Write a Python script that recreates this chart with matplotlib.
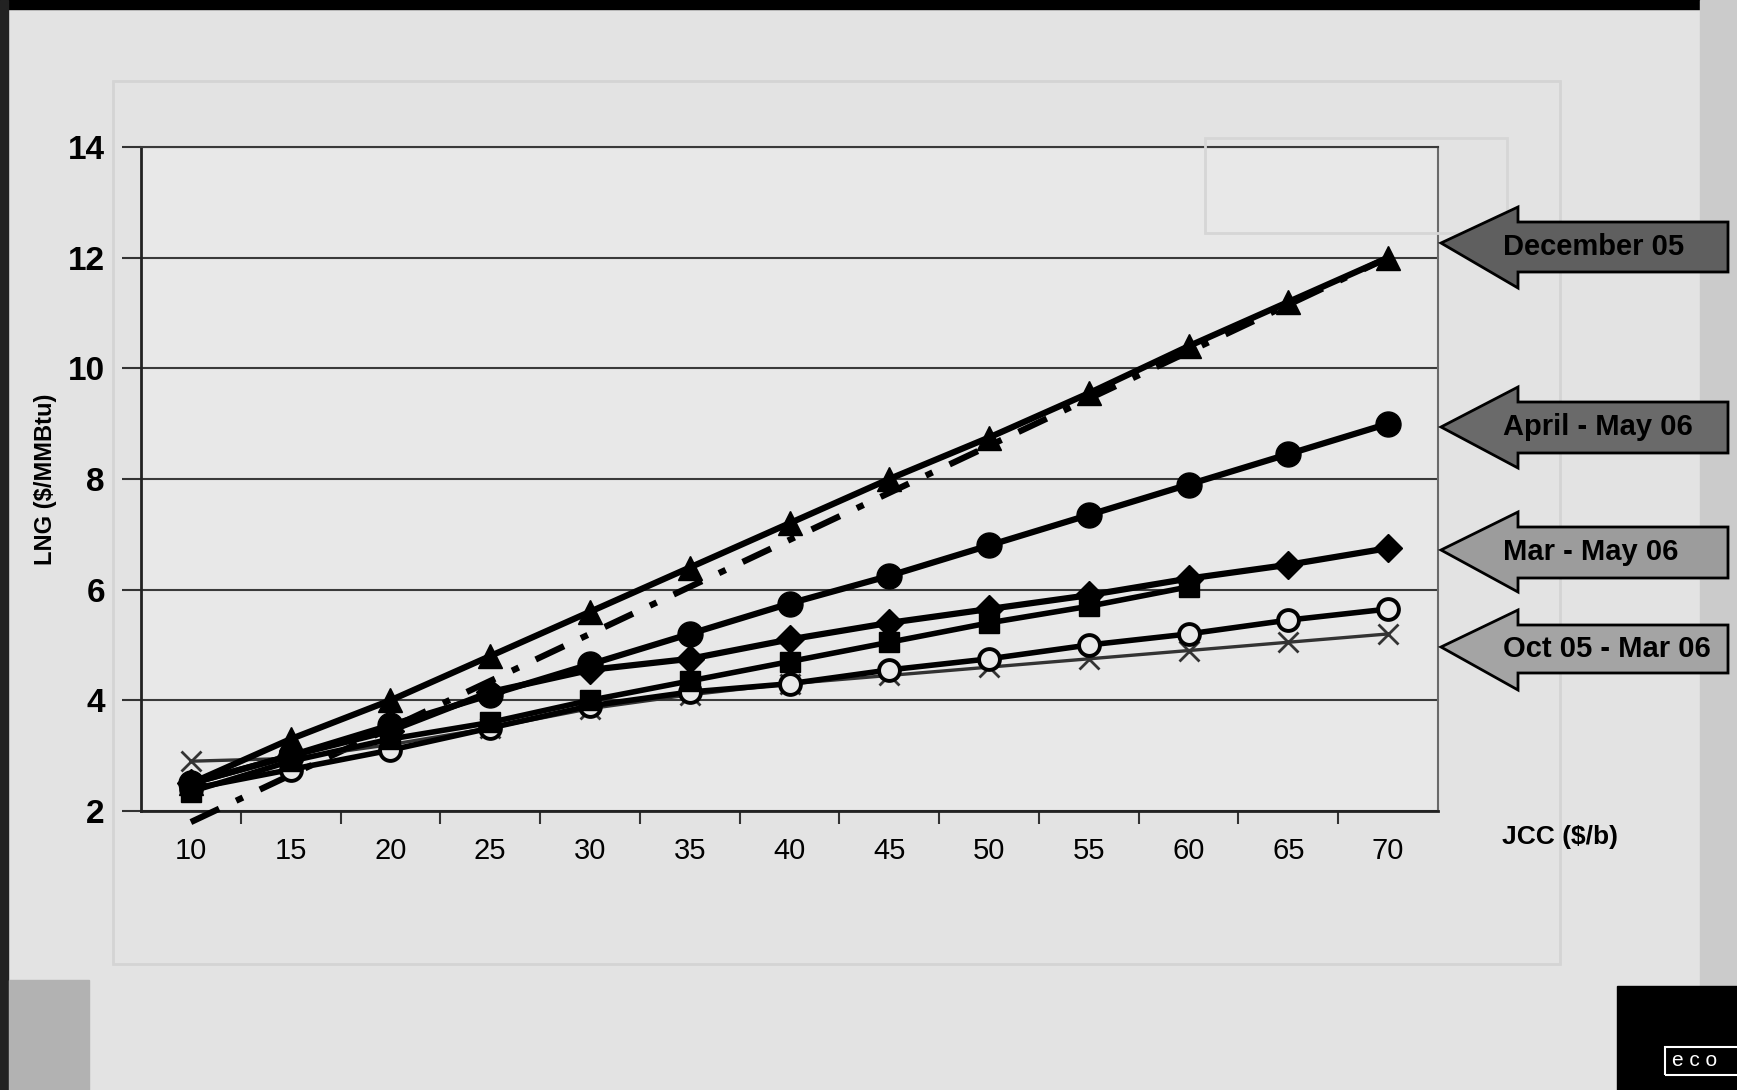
import numpy as np
import matplotlib.pyplot as plt
from matplotlib.patches import Polygon, Rectangle

plt.rcParams['font.family'] = ['Liberation Sans', 'DejaVu Sans']

# JCC crude price categories ($/b)
jcc = [10, 15, 20, 25, 30, 35, 40, 45, 50, 55, 60, 65, 70]

# LNG price ($/MMBtu) for each contract formula
dec05 = [2.5, 3.3, 4.0, 4.8, 5.6, 6.4, 7.2, 8.0, 8.75, 9.55, 10.4, 11.2, 12.0]
apr_may06 = [2.5, 3.0, 3.55, 4.1, 4.65, 5.2, 5.75, 6.25, 6.8, 7.35, 7.9, 8.45, 9.0]
mar_may06 = [2.5, 3.0, 3.45, 4.15, 4.55, 4.75, 5.1, 5.4, 5.65, 5.9, 6.2, 6.45, 6.75]
squares = [2.35, 2.9, 3.3, 3.6, 4.0, 4.35, 4.7, 5.05, 5.4, 5.7, 6.05]
oct05_mar06 = [2.4, 2.75, 3.1, 3.5, 3.9, 4.15, 4.3, 4.55, 4.75, 5.0, 5.2, 5.45, 5.65]
crosses = [2.9, 2.95, 3.2, 3.5, 3.85, 4.1, 4.3, 4.45, 4.6, 4.75, 4.9, 5.05, 5.2]
oil_parity = [1.8, 2.65, 3.5, 4.35, 5.2, 6.05, 6.9, 7.75, 8.6, 9.45, 10.3, 11.15, 12.0]

arrow_labels = ['December 05', 'April - May 06', 'Mar - May 06', 'Oct 05 - Mar 06']

W, H = 1737, 1090
fig = plt.figure(figsize=(W / 100, H / 100), dpi=100)
fig.patch.set_facecolor('#e3e3e3')


def fx(px):
    return px / W


def fy(py):
    return 1 - py / H


# scan artefacts: dark border, faint frame of the chart on the back page
fig.patches.append(Rectangle((0, fy(9)), 1, 1, transform=fig.transFigure, color='black', zorder=0))
fig.patches.append(Rectangle((0, 0), fx(8), 1, transform=fig.transFigure, color='#222222', zorder=0))
fig.patches.append(Rectangle((fx(1700), 0), 1, 1, transform=fig.transFigure, color='#cbcbcb', zorder=0))
fig.patches.append(Rectangle((fx(113), fy(964)), fx(1560 - 113), (964 - 81) / H, transform=fig.transFigure,
                             fill=False, ec='#d4d4d4', lw=2, zorder=0))
fig.patches.append(Rectangle((fx(1205), fy(233)), fx(1507 - 1205), (233 - 138) / H, transform=fig.transFigure,
                             fill=False, ec='#d6d6d6', lw=2, zorder=0))
fig.patches.append(Rectangle((fx(9), 0), fx(80), (1090 - 980) / H, transform=fig.transFigure,
                             color='#b2b2b2', zorder=0))
fig.patches.append(Rectangle((fx(1617), 0), 1, (1090 - 986) / H, transform=fig.transFigure,
                             color='black', zorder=0))
fig.patches.append(Rectangle((fx(1665), fy(1075)), 1, (1075 - 1047) / H, transform=fig.transFigure,
                             fill=False, ec='white', lw=1.5, zorder=1))
fig.text(fx(1672), fy(1061), 'e c o', color='white', fontsize=15, va='center', ha='left')

ax = fig.add_axes([fx(141), fy(811), fx(1438 - 141), (811 - 147) / H])
ax.set_facecolor('#e8e8e8')

x = np.arange(len(jcc))

ax.plot(x, oil_parity, color='black', lw=4.5, linestyle=(0, (5, 3, 1.2, 3)), zorder=3, clip_on=False)
ax.plot(x, crosses, color='#333333', lw=2.4, marker='x', ms=15, mew=2, zorder=3)
ax.plot(x, oct05_mar06, color='black', lw=4, marker='o', ms=15, mfc='#e8e8e8', mec='black', mew=2.8, zorder=4)
ax.plot(x[:len(squares)], squares, color='black', lw=4, marker='s', ms=15, zorder=4)
ax.plot(x, mar_may06, color='black', lw=4.5, marker='D', ms=14, zorder=4)
ax.plot(x, apr_may06, color='black', lw=4.5, marker='o', ms=18, zorder=5)
ax.plot(x, dec05, color='black', lw=4.5, marker='^', ms=17, zorder=5)

ax.set_xlim(-0.5, len(jcc) - 0.5)
ax.set_ylim(2, 14)
ax.set_yticks(range(2, 15, 2))
ax.set_yticklabels([str(v) for v in range(2, 15, 2)], fontsize=24, fontweight='bold')
ax.set_xticks(x)
ax.set_xticklabels([str(v) for v in jcc], fontsize=21)
ax.set_xticks(np.arange(0.5, len(jcc) - 0.5, 1), minor=True)
ax.tick_params(axis='x', which='major', length=0, pad=19)
ax.tick_params(axis='x', which='minor', length=9, width=1.5, direction='out', color='#333333')
ax.tick_params(axis='y', length=14, width=1.5, direction='out', pad=12, color='#333333')

ax.grid(axis='y', color='#3a3a3a', lw=1.5)
ax.set_axisbelow(True)
for s in ['left', 'bottom']:
    ax.spines[s].set_color('#222222')
    ax.spines[s].set_linewidth(2)
ax.spines['right'].set_color('#6a6a6a')
ax.spines['right'].set_linewidth(1.5)
ax.spines['top'].set_color('#3a3a3a')
ax.spines['top'].set_linewidth(1.5)

ax.set_ylabel('LNG ($/MMBtu)', fontsize=17, fontweight='bold', labelpad=8)
fig.text(fx(1560), fy(837), 'JCC ($/b)', fontsize=19, fontweight='bold', ha='center', va='center')

# callout arrows: (tip y, head top, body top, body bottom, head bottom, fill)
arrow_geom = [
    (243, 207, 222, 272, 288, '#5f5f5f'),
    (427, 387, 402, 453, 468, '#6a6a6a'),
    (550, 512, 527, 578, 592, '#9c9c9c'),
    (647, 610, 625, 673, 690, '#a4a4a4'),
]
tip_x, base_x, end_x = 1441, 1518, 1728
for label, (ty, ht, bt, bb, hb, c) in zip(arrow_labels, arrow_geom):
    pts = [(tip_x, ty), (base_x, ht), (base_x, bt), (end_x, bt), (end_x, bb), (base_x, bb), (base_x, hb)]
    poly = Polygon([(fx(px), fy(py)) for px, py in pts], closed=True, transform=fig.transFigure,
                   fc=c, ec='black', lw=2, zorder=2)
    fig.patches.append(poly)
    fig.text(fx(1503), fy((bt + bb) / 2), label, fontsize=21, fontweight='bold', ha='left', va='center', zorder=3)

fig.savefig('out.png', dpi=100, facecolor=fig.get_facecolor())
